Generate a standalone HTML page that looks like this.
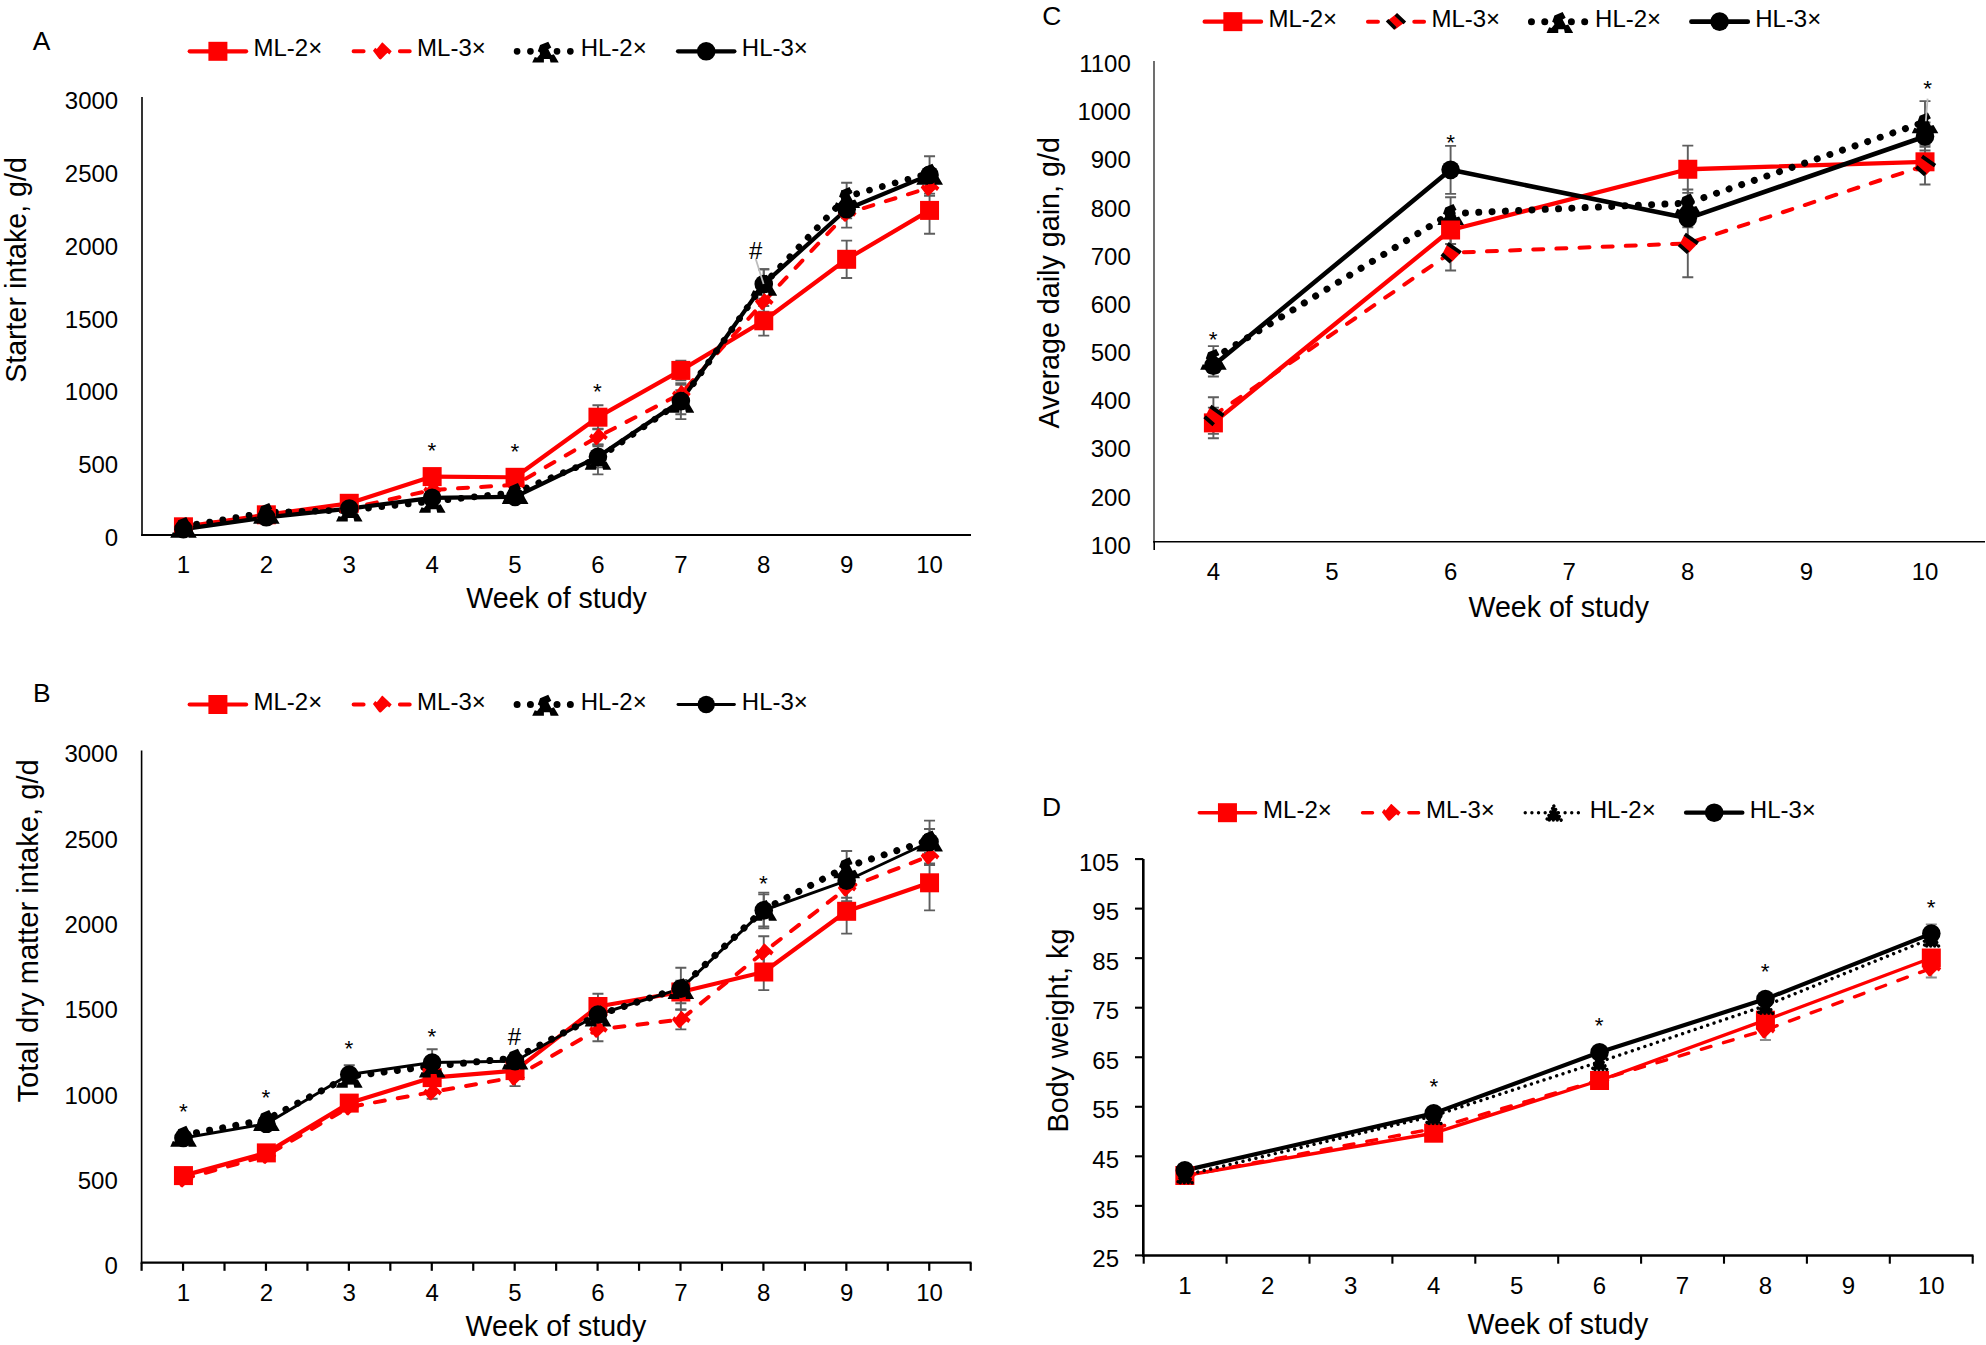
<!DOCTYPE html>
<html lang="en">
<head>
<meta charset="utf-8">
<title>Figure: intake, daily gain and body weight by week of study</title>
<style>
html,body{margin:0;padding:0;background:#fff;}
body{width:1986px;height:1345px;overflow:hidden;}
svg{display:block;}
svg text{font-family:"Liberation Sans", sans-serif;fill:#000;}
</style>
</head>
<body>
<svg width="1986" height="1345" viewBox="0 0 1986 1345">
<rect width="1986" height="1345" fill="#fff"/>
<g>
<text x="32.8" y="49.6" font-size="26.4" text-anchor="start">A</text>
<path d="M189.7 51.3 H246.1" stroke="#fe0000" stroke-width="4.2" fill="none" stroke-linecap="round" stroke-linejoin="round"/>
<rect x="208.4" y="41.8" width="19" height="19" fill="#fe0000"/>
<text x="253.5" y="56.3" font-size="24" text-anchor="start">ML-2×</text>
<path d="M353.6 51.3 H409.7" stroke="#fe0000" stroke-width="4" fill="none" stroke-linecap="round" stroke-linejoin="round" stroke-dasharray="10 13.15"/>
<polygon points="382.6,42.5 391.7,51.2 389.3,54.4 387.45,52.8 380.8,59.4 379.2,59 372.95,50.8 375.2,47.7 376.8,49 382,42.5" fill="#fe0000"/>
<text x="417.1" y="56.3" font-size="24" text-anchor="start">ML-3×</text>
<path d="M517.1 51.3 H575.3" stroke="#000" stroke-width="6.7" fill="none" stroke-linecap="round" stroke-linejoin="round" stroke-dasharray="0.01 13.3"/>
<polygon points="540.05,45.05 548.3,41.65 551.3,47.45 548.3,49.25 551.3,54.95 553.9,54.15 558.6,62.15 558.6,62.55 550.5,62.55 549.7,58.95 543.9,58.95 543.9,62.55 532.2,62.55 534.8,56.95 537.2,57.75 540.05,54.15 539.6,52.35 537.8,51.3" fill="#000"/>
<text x="580.7" y="56.3" font-size="24" text-anchor="start">HL-2×</text>
<path d="M678 51.3 H734.4" stroke="#000" stroke-width="4.2" fill="none" stroke-linecap="round" stroke-linejoin="round"/>
<circle cx="706.2" cy="51.3" r="9.3" fill="#000"/>
<text x="741.8" y="56.3" font-size="24" text-anchor="start">HL-3×</text>
<text x="118.2" y="546.05" font-size="24" text-anchor="end">0</text>
<text x="118.2" y="473.21" font-size="24" text-anchor="end">500</text>
<text x="118.2" y="400.37" font-size="24" text-anchor="end">1000</text>
<text x="118.2" y="327.53" font-size="24" text-anchor="end">1500</text>
<text x="118.2" y="254.69" font-size="24" text-anchor="end">2000</text>
<text x="118.2" y="181.85" font-size="24" text-anchor="end">2500</text>
<text x="118.2" y="109.01" font-size="24" text-anchor="end">3000</text>
<text x="183.45" y="573.1" font-size="24" text-anchor="middle">1</text>
<text x="266.35" y="573.1" font-size="24" text-anchor="middle">2</text>
<text x="349.25" y="573.1" font-size="24" text-anchor="middle">3</text>
<text x="432.15" y="573.1" font-size="24" text-anchor="middle">4</text>
<text x="515.05" y="573.1" font-size="24" text-anchor="middle">5</text>
<text x="597.95" y="573.1" font-size="24" text-anchor="middle">6</text>
<text x="680.85" y="573.1" font-size="24" text-anchor="middle">7</text>
<text x="763.75" y="573.1" font-size="24" text-anchor="middle">8</text>
<text x="846.65" y="573.1" font-size="24" text-anchor="middle">9</text>
<text x="929.55" y="573.1" font-size="24" text-anchor="middle">10</text>
<text x="556.6" y="608.1" font-size="28.6" text-anchor="middle">Week of study</text>
<text transform="translate(25.5 270) rotate(-90)" font-size="28.6" text-anchor="middle">Starter intake, g/d</text>
<path d="M183.45 526.8 L266.35 514.8 L349.25 503.3 L432.15 476.6 L515.05 477.3 L597.95 417.2 L680.85 370.4 L763.75 320.8 L846.65 259.3 L929.55 210.4" stroke="#fe0000" stroke-width="4.2" fill="none" stroke-linecap="round" stroke-linejoin="round"/>
<path d="M183.45 527 L266.35 515.2 L349.25 508.6 L432.15 489.9 L515.05 484.9 L597.95 436.7 L680.85 393.7 L763.75 301.7 L846.65 213.4 L929.55 187.6" stroke="#fe0000" stroke-width="4" fill="none" stroke-linecap="round" stroke-linejoin="round" stroke-dasharray="10 13.15"/>
<path d="M183.45 526.45 L266.35 512.45 L349.25 510.15 L432.15 501.35 L515.05 492.55 L597.95 458.45 L680.85 401.35 L763.75 284.35 L846.65 196.55 L929.55 173.25" stroke="#000" stroke-width="6.7" fill="none" stroke-linecap="round" stroke-linejoin="round" stroke-dasharray="0.01 13.3"/>
<path d="M183.45 529.2 L266.35 517.3 L349.25 508.6 L432.15 497.9 L515.05 496.9 L597.95 456.8 L680.85 401.1 L763.75 284 L846.65 209.3 L929.55 174.9" stroke="#000" stroke-width="4.2" fill="none" stroke-linecap="round" stroke-linejoin="round"/>
<path d="M597.95 405.2 V429.2 M592.45 405.2 H603.45 M592.45 429.2 H603.45" stroke="#5e5e5e" stroke-width="1.9" fill="none"/>
<path d="M680.85 360.6 V380.2 M675.35 360.6 H686.35 M675.35 380.2 H686.35" stroke="#5e5e5e" stroke-width="1.9" fill="none"/>
<path d="M763.75 306 V335.6 M758.25 306 H769.25 M758.25 335.6 H769.25" stroke="#5e5e5e" stroke-width="1.9" fill="none"/>
<path d="M846.65 240.6 V278 M841.15 240.6 H852.15 M841.15 278 H852.15" stroke="#5e5e5e" stroke-width="1.9" fill="none"/>
<path d="M929.55 187.1 V233.7 M924.05 187.1 H935.05 M924.05 233.7 H935.05" stroke="#5e5e5e" stroke-width="1.9" fill="none"/>
<path d="M597.95 428.7 V444.7 M592.45 428.7 H603.45 M592.45 444.7 H603.45" stroke="#5e5e5e" stroke-width="1.9" fill="none"/>
<path d="M680.85 384.7 V402.7 M675.35 384.7 H686.35 M675.35 402.7 H686.35" stroke="#5e5e5e" stroke-width="1.9" fill="none"/>
<path d="M763.75 291.7 V311.7 M758.25 291.7 H769.25 M758.25 311.7 H769.25" stroke="#5e5e5e" stroke-width="1.9" fill="none"/>
<path d="M846.65 208.4 V218.4 M841.15 208.4 H852.15 M841.15 218.4 H852.15" stroke="#5e5e5e" stroke-width="1.9" fill="none"/>
<path d="M929.55 179.5 V195.7 M924.05 179.5 H935.05 M924.05 195.7 H935.05" stroke="#5e5e5e" stroke-width="1.9" fill="none"/>
<path d="M597.95 444.4 V474.4 M592.45 444.4 H603.45 M592.45 474.4 H603.45" stroke="#5e5e5e" stroke-width="1.9" fill="none"/>
<path d="M680.85 390.3 V414.3 M675.35 390.3 H686.35 M675.35 414.3 H686.35" stroke="#5e5e5e" stroke-width="1.9" fill="none"/>
<path d="M763.75 269.3 V301.3 M758.25 269.3 H769.25 M758.25 301.3 H769.25" stroke="#5e5e5e" stroke-width="1.9" fill="none"/>
<path d="M846.65 182.7 V212.3 M841.15 182.7 H852.15 M841.15 212.3 H852.15" stroke="#5e5e5e" stroke-width="1.9" fill="none"/>
<path d="M929.55 169.2 V179.2 M924.05 169.2 H935.05 M924.05 179.2 H935.05" stroke="#5e5e5e" stroke-width="1.9" fill="none"/>
<path d="M597.95 446.2 V467.4 M592.45 446.2 H603.45 M592.45 467.4 H603.45" stroke="#5e5e5e" stroke-width="1.9" fill="none"/>
<path d="M680.85 383.1 V419.1 M675.35 383.1 H686.35 M675.35 419.1 H686.35" stroke="#5e5e5e" stroke-width="1.9" fill="none"/>
<path d="M763.75 269.3 V298.7 M758.25 269.3 H769.25 M758.25 298.7 H769.25" stroke="#5e5e5e" stroke-width="1.9" fill="none"/>
<path d="M846.65 191 V227.6 M841.15 191 H852.15 M841.15 227.6 H852.15" stroke="#5e5e5e" stroke-width="1.9" fill="none"/>
<path d="M929.55 156.2 V193.6 M924.05 156.2 H935.05 M924.05 193.6 H935.05" stroke="#5e5e5e" stroke-width="1.9" fill="none"/>
<rect x="173.95" y="517.3" width="19" height="19" fill="#fe0000"/>
<rect x="256.85" y="505.3" width="19" height="19" fill="#fe0000"/>
<rect x="339.75" y="493.8" width="19" height="19" fill="#fe0000"/>
<rect x="422.65" y="467.1" width="19" height="19" fill="#fe0000"/>
<rect x="505.55" y="467.8" width="19" height="19" fill="#fe0000"/>
<rect x="588.45" y="407.7" width="19" height="19" fill="#fe0000"/>
<rect x="671.35" y="360.9" width="19" height="19" fill="#fe0000"/>
<rect x="754.25" y="311.3" width="19" height="19" fill="#fe0000"/>
<rect x="837.15" y="249.8" width="19" height="19" fill="#fe0000"/>
<rect x="920.05" y="200.9" width="19" height="19" fill="#fe0000"/>
<polygon points="184.25,518.5 193.35,527.2 190.95,530.4 189.1,528.8 182.45,535.4 180.85,535 174.6,526.8 176.85,523.7 178.45,525 183.65,518.5" fill="#fe0000"/>
<polygon points="267.15,506.7 276.25,515.4 273.85,518.6 272,517 265.35,523.6 263.75,523.2 257.5,515 259.75,511.9 261.35,513.2 266.55,506.7" fill="#fe0000"/>
<polygon points="350.05,500.1 359.15,508.8 356.75,512 354.9,510.4 348.25,517 346.65,516.6 340.4,508.4 342.65,505.3 344.25,506.6 349.45,500.1" fill="#fe0000"/>
<polygon points="432.95,481.4 442.05,490.1 439.65,493.3 437.8,491.7 431.15,498.3 429.55,497.9 423.3,489.7 425.55,486.6 427.15,487.9 432.35,481.4" fill="#fe0000"/>
<polygon points="515.85,476.4 524.95,485.1 522.55,488.3 520.7,486.7 514.05,493.3 512.45,492.9 506.2,484.7 508.45,481.6 510.05,482.9 515.25,476.4" fill="#fe0000"/>
<polygon points="598.75,428.2 607.85,436.9 605.45,440.1 603.6,438.5 596.95,445.1 595.35,444.7 589.1,436.5 591.35,433.4 592.95,434.7 598.15,428.2" fill="#fe0000"/>
<polygon points="681.65,385.2 690.75,393.9 688.35,397.1 686.5,395.5 679.85,402.1 678.25,401.7 672,393.5 674.25,390.4 675.85,391.7 681.05,385.2" fill="#fe0000"/>
<polygon points="764.55,293.2 773.65,301.9 771.25,305.1 769.4,303.5 762.75,310.1 761.15,309.7 754.9,301.5 757.15,298.4 758.75,299.7 763.95,293.2" fill="#fe0000"/>
<polygon points="847.45,204.9 856.55,213.6 854.15,216.8 852.3,215.2 845.65,221.8 844.05,221.4 837.8,213.2 840.05,210.1 841.65,211.4 846.85,204.9" fill="#fe0000"/>
<polygon points="930.35,179.1 939.45,187.8 937.05,191 935.2,189.4 928.55,196 926.95,195.6 920.7,187.4 922.95,184.3 924.55,185.6 929.75,179.1" fill="#fe0000"/>
<polygon points="178.1,520.35 186.35,516.95 189.35,522.75 186.35,524.55 189.35,530.25 191.95,529.45 196.65,537.45 196.65,537.85 188.55,537.85 187.75,534.25 181.95,534.25 181.95,537.85 170.25,537.85 172.85,532.25 175.25,533.05 178.1,529.45 177.65,527.65 175.85,526.6" fill="#000"/>
<polygon points="261,506.35 269.25,502.95 272.25,508.75 269.25,510.55 272.25,516.25 274.85,515.45 279.55,523.45 279.55,523.85 271.45,523.85 270.65,520.25 264.85,520.25 264.85,523.85 253.15,523.85 255.75,518.25 258.15,519.05 261,515.45 260.55,513.65 258.75,512.6" fill="#000"/>
<polygon points="343.9,504.05 352.15,500.65 355.15,506.45 352.15,508.25 355.15,513.95 357.75,513.15 362.45,521.15 362.45,521.55 354.35,521.55 353.55,517.95 347.75,517.95 347.75,521.55 336.05,521.55 338.65,515.95 341.05,516.75 343.9,513.15 343.45,511.35 341.65,510.3" fill="#000"/>
<polygon points="426.8,495.25 435.05,491.85 438.05,497.65 435.05,499.45 438.05,505.15 440.65,504.35 445.35,512.35 445.35,512.75 437.25,512.75 436.45,509.15 430.65,509.15 430.65,512.75 418.95,512.75 421.55,507.15 423.95,507.95 426.8,504.35 426.35,502.55 424.55,501.5" fill="#000"/>
<polygon points="509.7,486.45 517.95,483.05 520.95,488.85 517.95,490.65 520.95,496.35 523.55,495.55 528.25,503.55 528.25,503.95 520.15,503.95 519.35,500.35 513.55,500.35 513.55,503.95 501.85,503.95 504.45,498.35 506.85,499.15 509.7,495.55 509.25,493.75 507.45,492.7" fill="#000"/>
<polygon points="592.6,452.35 600.85,448.95 603.85,454.75 600.85,456.55 603.85,462.25 606.45,461.45 611.15,469.45 611.15,469.85 603.05,469.85 602.25,466.25 596.45,466.25 596.45,469.85 584.75,469.85 587.35,464.25 589.75,465.05 592.6,461.45 592.15,459.65 590.35,458.6" fill="#000"/>
<polygon points="675.5,395.25 683.75,391.85 686.75,397.65 683.75,399.45 686.75,405.15 689.35,404.35 694.05,412.35 694.05,412.75 685.95,412.75 685.15,409.15 679.35,409.15 679.35,412.75 667.65,412.75 670.25,407.15 672.65,407.95 675.5,404.35 675.05,402.55 673.25,401.5" fill="#000"/>
<polygon points="758.4,278.25 766.65,274.85 769.65,280.65 766.65,282.45 769.65,288.15 772.25,287.35 776.95,295.35 776.95,295.75 768.85,295.75 768.05,292.15 762.25,292.15 762.25,295.75 750.55,295.75 753.15,290.15 755.55,290.95 758.4,287.35 757.95,285.55 756.15,284.5" fill="#000"/>
<polygon points="841.3,190.45 849.55,187.05 852.55,192.85 849.55,194.65 852.55,200.35 855.15,199.55 859.85,207.55 859.85,207.95 851.75,207.95 850.95,204.35 845.15,204.35 845.15,207.95 833.45,207.95 836.05,202.35 838.45,203.15 841.3,199.55 840.85,197.75 839.05,196.7" fill="#000"/>
<polygon points="924.2,167.15 932.45,163.75 935.45,169.55 932.45,171.35 935.45,177.05 938.05,176.25 942.75,184.25 942.75,184.65 934.65,184.65 933.85,181.05 928.05,181.05 928.05,184.65 916.35,184.65 918.95,179.05 921.35,179.85 924.2,176.25 923.75,174.45 921.95,173.4" fill="#000"/>
<circle cx="183.45" cy="529.2" r="9.3" fill="#000"/>
<circle cx="266.35" cy="517.3" r="9.3" fill="#000"/>
<circle cx="349.25" cy="508.6" r="9.3" fill="#000"/>
<circle cx="432.15" cy="497.9" r="9.3" fill="#000"/>
<circle cx="515.05" cy="496.9" r="9.3" fill="#000"/>
<circle cx="597.95" cy="456.8" r="9.3" fill="#000"/>
<circle cx="680.85" cy="401.1" r="9.3" fill="#000"/>
<circle cx="763.75" cy="284" r="9.3" fill="#000"/>
<circle cx="846.65" cy="209.3" r="9.3" fill="#000"/>
<circle cx="929.55" cy="174.9" r="9.3" fill="#000"/>
<path d="M755.6 258.5 L763.6 284" stroke="#bdbdbd" stroke-width="1.8"/>
<path d="M142 97 V536.05" stroke="#000" stroke-width="1.6"/>
<path d="M141.2 535 H971" stroke="#000" stroke-width="2.1"/>
<text x="431.9" y="457.9" font-size="22.5" text-anchor="middle">*</text>
<text x="514.9" y="458.7" font-size="22.5" text-anchor="middle">*</text>
<text x="597.5" y="398.7" font-size="22.5" text-anchor="middle">*</text>
<text x="755.6" y="258.79" font-size="24" text-anchor="middle">#</text>
</g>
<g>
<text x="33" y="701.6" font-size="26.4" text-anchor="start">B</text>
<path d="M189.7 704.5 H246.1" stroke="#fe0000" stroke-width="4.2" fill="none" stroke-linecap="round" stroke-linejoin="round"/>
<rect x="208.4" y="695" width="19" height="19" fill="#fe0000"/>
<text x="253.5" y="709.5" font-size="24" text-anchor="start">ML-2×</text>
<path d="M353.6 704.5 H409.7" stroke="#fe0000" stroke-width="4" fill="none" stroke-linecap="round" stroke-linejoin="round" stroke-dasharray="10 13.15"/>
<polygon points="382.6,695.7 391.7,704.4 389.3,707.6 387.45,706 380.8,712.6 379.2,712.2 372.95,704 375.2,700.9 376.8,702.2 382,695.7" fill="#fe0000"/>
<text x="417.1" y="709.5" font-size="24" text-anchor="start">ML-3×</text>
<path d="M517.1 704.5 H575.3" stroke="#000" stroke-width="7" fill="none" stroke-linecap="round" stroke-linejoin="round" stroke-dasharray="0.01 13.3"/>
<polygon points="540.05,698.25 548.3,694.85 551.3,700.65 548.3,702.45 551.3,708.15 553.9,707.35 558.6,715.35 558.6,715.75 550.5,715.75 549.7,712.15 543.9,712.15 543.9,715.75 532.2,715.75 534.8,710.15 537.2,710.95 540.05,707.35 539.6,705.55 537.8,704.5" fill="#000"/>
<text x="580.7" y="709.5" font-size="24" text-anchor="start">HL-2×</text>
<path d="M678 704.5 H734.4" stroke="#000" stroke-width="2.9" fill="none" stroke-linecap="round" stroke-linejoin="round"/>
<circle cx="706.2" cy="704.5" r="8.7" fill="#000"/>
<text x="741.8" y="709.5" font-size="24" text-anchor="start">HL-3×</text>
<text x="117.8" y="1274.3" font-size="24" text-anchor="end">0</text>
<text x="117.8" y="1188.96" font-size="24" text-anchor="end">500</text>
<text x="117.8" y="1103.63" font-size="24" text-anchor="end">1000</text>
<text x="117.8" y="1018.29" font-size="24" text-anchor="end">1500</text>
<text x="117.8" y="932.96" font-size="24" text-anchor="end">2000</text>
<text x="117.8" y="847.62" font-size="24" text-anchor="end">2500</text>
<text x="117.8" y="762.29" font-size="24" text-anchor="end">3000</text>
<text x="183.45" y="1300.6" font-size="24" text-anchor="middle">1</text>
<text x="266.35" y="1300.6" font-size="24" text-anchor="middle">2</text>
<text x="349.25" y="1300.6" font-size="24" text-anchor="middle">3</text>
<text x="432.15" y="1300.6" font-size="24" text-anchor="middle">4</text>
<text x="515.05" y="1300.6" font-size="24" text-anchor="middle">5</text>
<text x="597.95" y="1300.6" font-size="24" text-anchor="middle">6</text>
<text x="680.85" y="1300.6" font-size="24" text-anchor="middle">7</text>
<text x="763.75" y="1300.6" font-size="24" text-anchor="middle">8</text>
<text x="846.65" y="1300.6" font-size="24" text-anchor="middle">9</text>
<text x="929.55" y="1300.6" font-size="24" text-anchor="middle">10</text>
<text x="555.95" y="1335.7" font-size="28.6" text-anchor="middle">Week of study</text>
<text transform="translate(38.3 930.9) rotate(-90)" font-size="29.15" text-anchor="middle">Total dry matter intake, g/d</text>
<path d="M183.45 1175.6 L266.35 1152.9 L349.25 1103.1 L432.15 1077.6 L515.05 1070.6 L597.95 1006.5 L680.85 992 L763.75 972 L846.65 911.3 L929.55 882.8" stroke="#fe0000" stroke-width="4.2" fill="none" stroke-linecap="round" stroke-linejoin="round"/>
<path d="M183.45 1179 L266.35 1155.6 L349.25 1107 L432.15 1092 L515.05 1077.2 L597.95 1029.4 L680.85 1019.6 L763.75 952.1 L846.65 888.1 L929.55 856" stroke="#fe0000" stroke-width="4" fill="none" stroke-linecap="round" stroke-linejoin="round" stroke-dasharray="10 13.15"/>
<path d="M183.45 1135.25 L266.35 1119.55 L349.25 1076.35 L432.15 1066.15 L515.05 1058.15 L597.95 1015.05 L680.85 987.65 L763.75 909.45 L846.65 866.85 L929.55 840.05" stroke="#000" stroke-width="7" fill="none" stroke-linecap="round" stroke-linejoin="round" stroke-dasharray="0.01 13.3"/>
<path d="M183.45 1138 L266.35 1123.8 L349.25 1074.5 L432.15 1062.5 L515.05 1061.2 L597.95 1014.5 L680.85 988.6 L763.75 910.4 L846.65 880.7 L929.55 842" stroke="#000" stroke-width="2.9" fill="none" stroke-linecap="round" stroke-linejoin="round"/>
<path d="M597.95 993.7 V1019.3 M592.45 993.7 H603.45 M592.45 1019.3 H603.45" stroke="#5e5e5e" stroke-width="1.9" fill="none"/>
<path d="M680.85 980.7 V1003.3 M675.35 980.7 H686.35 M675.35 1003.3 H686.35" stroke="#5e5e5e" stroke-width="1.9" fill="none"/>
<path d="M763.75 953.9 V990.1 M758.25 953.9 H769.25 M758.25 990.1 H769.25" stroke="#5e5e5e" stroke-width="1.9" fill="none"/>
<path d="M846.65 889 V933.6 M841.15 889 H852.15 M841.15 933.6 H852.15" stroke="#5e5e5e" stroke-width="1.9" fill="none"/>
<path d="M929.55 855.2 V910.4 M924.05 855.2 H935.05 M924.05 910.4 H935.05" stroke="#5e5e5e" stroke-width="1.9" fill="none"/>
<path d="M432.15 1085.2 V1098.8 M426.65 1085.2 H437.65 M426.65 1098.8 H437.65" stroke="#5e5e5e" stroke-width="1.9" fill="none"/>
<path d="M515.05 1068.3 V1086.1 M509.55 1068.3 H520.55 M509.55 1086.1 H520.55" stroke="#5e5e5e" stroke-width="1.9" fill="none"/>
<path d="M597.95 1017.5 V1041.3 M592.45 1017.5 H603.45 M592.45 1041.3 H603.45" stroke="#5e5e5e" stroke-width="1.9" fill="none"/>
<path d="M680.85 1009.8 V1029.4 M675.35 1009.8 H686.35 M675.35 1029.4 H686.35" stroke="#5e5e5e" stroke-width="1.9" fill="none"/>
<path d="M763.75 936.3 V967.9 M758.25 936.3 H769.25 M758.25 967.9 H769.25" stroke="#5e5e5e" stroke-width="1.9" fill="none"/>
<path d="M846.65 875.1 V901.1 M841.15 875.1 H852.15 M841.15 901.1 H852.15" stroke="#5e5e5e" stroke-width="1.9" fill="none"/>
<path d="M929.55 847 V865 M924.05 847 H935.05 M924.05 865 H935.05" stroke="#5e5e5e" stroke-width="1.9" fill="none"/>
<path d="M680.85 983.6 V993.6 M675.35 983.6 H686.35 M675.35 993.6 H686.35" stroke="#5e5e5e" stroke-width="1.9" fill="none"/>
<path d="M763.75 894.4 V926.4 M758.25 894.4 H769.25 M758.25 926.4 H769.25" stroke="#5e5e5e" stroke-width="1.9" fill="none"/>
<path d="M846.65 851 V884.6 M841.15 851 H852.15 M841.15 884.6 H852.15" stroke="#5e5e5e" stroke-width="1.9" fill="none"/>
<path d="M929.55 829 V853 M924.05 829 H935.05 M924.05 853 H935.05" stroke="#5e5e5e" stroke-width="1.9" fill="none"/>
<path d="M349.25 1065.2 V1083.8 M343.75 1065.2 H354.75 M343.75 1083.8 H354.75" stroke="#5e5e5e" stroke-width="1.9" fill="none"/>
<path d="M432.15 1049.3 V1075.7 M426.65 1049.3 H437.65 M426.65 1075.7 H437.65" stroke="#5e5e5e" stroke-width="1.9" fill="none"/>
<path d="M597.95 1004.5 V1024.5 M592.45 1004.5 H603.45 M592.45 1024.5 H603.45" stroke="#5e5e5e" stroke-width="1.9" fill="none"/>
<path d="M680.85 967.8 V1009.4 M675.35 967.8 H686.35 M675.35 1009.4 H686.35" stroke="#5e5e5e" stroke-width="1.9" fill="none"/>
<path d="M763.75 892.6 V928.2 M758.25 892.6 H769.25 M758.25 928.2 H769.25" stroke="#5e5e5e" stroke-width="1.9" fill="none"/>
<path d="M846.65 863.7 V897.7 M841.15 863.7 H852.15 M841.15 897.7 H852.15" stroke="#5e5e5e" stroke-width="1.9" fill="none"/>
<path d="M929.55 820.6 V863.4 M924.05 820.6 H935.05 M924.05 863.4 H935.05" stroke="#5e5e5e" stroke-width="1.9" fill="none"/>
<rect x="173.95" y="1166.1" width="19" height="19" fill="#fe0000"/>
<rect x="256.85" y="1143.4" width="19" height="19" fill="#fe0000"/>
<rect x="339.75" y="1093.6" width="19" height="19" fill="#fe0000"/>
<rect x="422.65" y="1068.1" width="19" height="19" fill="#fe0000"/>
<rect x="505.55" y="1061.1" width="19" height="19" fill="#fe0000"/>
<rect x="588.45" y="997" width="19" height="19" fill="#fe0000"/>
<rect x="671.35" y="982.5" width="19" height="19" fill="#fe0000"/>
<rect x="754.25" y="962.5" width="19" height="19" fill="#fe0000"/>
<rect x="837.15" y="901.8" width="19" height="19" fill="#fe0000"/>
<rect x="920.05" y="873.3" width="19" height="19" fill="#fe0000"/>
<polygon points="184.25,1170.5 193.35,1179.2 190.95,1182.4 189.1,1180.8 182.45,1187.4 180.85,1187 174.6,1178.8 176.85,1175.7 178.45,1177 183.65,1170.5" fill="#fe0000"/>
<polygon points="267.15,1147.1 276.25,1155.8 273.85,1159 272,1157.4 265.35,1164 263.75,1163.6 257.5,1155.4 259.75,1152.3 261.35,1153.6 266.55,1147.1" fill="#fe0000"/>
<polygon points="350.05,1098.5 359.15,1107.2 356.75,1110.4 354.9,1108.8 348.25,1115.4 346.65,1115 340.4,1106.8 342.65,1103.7 344.25,1105 349.45,1098.5" fill="#fe0000"/>
<polygon points="432.95,1083.5 442.05,1092.2 439.65,1095.4 437.8,1093.8 431.15,1100.4 429.55,1100 423.3,1091.8 425.55,1088.7 427.15,1090 432.35,1083.5" fill="#fe0000"/>
<polygon points="515.85,1068.7 524.95,1077.4 522.55,1080.6 520.7,1079 514.05,1085.6 512.45,1085.2 506.2,1077 508.45,1073.9 510.05,1075.2 515.25,1068.7" fill="#fe0000"/>
<polygon points="598.75,1020.9 607.85,1029.6 605.45,1032.8 603.6,1031.2 596.95,1037.8 595.35,1037.4 589.1,1029.2 591.35,1026.1 592.95,1027.4 598.15,1020.9" fill="#fe0000"/>
<polygon points="681.65,1011.1 690.75,1019.8 688.35,1023 686.5,1021.4 679.85,1028 678.25,1027.6 672,1019.4 674.25,1016.3 675.85,1017.6 681.05,1011.1" fill="#fe0000"/>
<polygon points="764.55,943.6 773.65,952.3 771.25,955.5 769.4,953.9 762.75,960.5 761.15,960.1 754.9,951.9 757.15,948.8 758.75,950.1 763.95,943.6" fill="#fe0000"/>
<polygon points="847.45,879.6 856.55,888.3 854.15,891.5 852.3,889.9 845.65,896.5 844.05,896.1 837.8,887.9 840.05,884.8 841.65,886.1 846.85,879.6" fill="#fe0000"/>
<polygon points="930.35,847.5 939.45,856.2 937.05,859.4 935.2,857.8 928.55,864.4 926.95,864 920.7,855.8 922.95,852.7 924.55,854 929.75,847.5" fill="#fe0000"/>
<polygon points="178.1,1129.15 186.35,1125.75 189.35,1131.55 186.35,1133.35 189.35,1139.05 191.95,1138.25 196.65,1146.25 196.65,1146.65 188.55,1146.65 187.75,1143.05 181.95,1143.05 181.95,1146.65 170.25,1146.65 172.85,1141.05 175.25,1141.85 178.1,1138.25 177.65,1136.45 175.85,1135.4" fill="#000"/>
<polygon points="261,1113.45 269.25,1110.05 272.25,1115.85 269.25,1117.65 272.25,1123.35 274.85,1122.55 279.55,1130.55 279.55,1130.95 271.45,1130.95 270.65,1127.35 264.85,1127.35 264.85,1130.95 253.15,1130.95 255.75,1125.35 258.15,1126.15 261,1122.55 260.55,1120.75 258.75,1119.7" fill="#000"/>
<polygon points="343.9,1070.25 352.15,1066.85 355.15,1072.65 352.15,1074.45 355.15,1080.15 357.75,1079.35 362.45,1087.35 362.45,1087.75 354.35,1087.75 353.55,1084.15 347.75,1084.15 347.75,1087.75 336.05,1087.75 338.65,1082.15 341.05,1082.95 343.9,1079.35 343.45,1077.55 341.65,1076.5" fill="#000"/>
<polygon points="426.8,1060.05 435.05,1056.65 438.05,1062.45 435.05,1064.25 438.05,1069.95 440.65,1069.15 445.35,1077.15 445.35,1077.55 437.25,1077.55 436.45,1073.95 430.65,1073.95 430.65,1077.55 418.95,1077.55 421.55,1071.95 423.95,1072.75 426.8,1069.15 426.35,1067.35 424.55,1066.3" fill="#000"/>
<polygon points="509.7,1052.05 517.95,1048.65 520.95,1054.45 517.95,1056.25 520.95,1061.95 523.55,1061.15 528.25,1069.15 528.25,1069.55 520.15,1069.55 519.35,1065.95 513.55,1065.95 513.55,1069.55 501.85,1069.55 504.45,1063.95 506.85,1064.75 509.7,1061.15 509.25,1059.35 507.45,1058.3" fill="#000"/>
<polygon points="592.6,1008.95 600.85,1005.55 603.85,1011.35 600.85,1013.15 603.85,1018.85 606.45,1018.05 611.15,1026.05 611.15,1026.45 603.05,1026.45 602.25,1022.85 596.45,1022.85 596.45,1026.45 584.75,1026.45 587.35,1020.85 589.75,1021.65 592.6,1018.05 592.15,1016.25 590.35,1015.2" fill="#000"/>
<polygon points="675.5,981.55 683.75,978.15 686.75,983.95 683.75,985.75 686.75,991.45 689.35,990.65 694.05,998.65 694.05,999.05 685.95,999.05 685.15,995.45 679.35,995.45 679.35,999.05 667.65,999.05 670.25,993.45 672.65,994.25 675.5,990.65 675.05,988.85 673.25,987.8" fill="#000"/>
<polygon points="758.4,903.35 766.65,899.95 769.65,905.75 766.65,907.55 769.65,913.25 772.25,912.45 776.95,920.45 776.95,920.85 768.85,920.85 768.05,917.25 762.25,917.25 762.25,920.85 750.55,920.85 753.15,915.25 755.55,916.05 758.4,912.45 757.95,910.65 756.15,909.6" fill="#000"/>
<polygon points="841.3,860.75 849.55,857.35 852.55,863.15 849.55,864.95 852.55,870.65 855.15,869.85 859.85,877.85 859.85,878.25 851.75,878.25 850.95,874.65 845.15,874.65 845.15,878.25 833.45,878.25 836.05,872.65 838.45,873.45 841.3,869.85 840.85,868.05 839.05,867" fill="#000"/>
<polygon points="924.2,833.95 932.45,830.55 935.45,836.35 932.45,838.15 935.45,843.85 938.05,843.05 942.75,851.05 942.75,851.45 934.65,851.45 933.85,847.85 928.05,847.85 928.05,851.45 916.35,851.45 918.95,845.85 921.35,846.65 924.2,843.05 923.75,841.25 921.95,840.2" fill="#000"/>
<circle cx="183.45" cy="1138" r="9.3" fill="#000"/>
<circle cx="266.35" cy="1123.8" r="9.3" fill="#000"/>
<circle cx="349.25" cy="1074.5" r="9.3" fill="#000"/>
<circle cx="432.15" cy="1062.5" r="9.3" fill="#000"/>
<circle cx="515.05" cy="1061.2" r="9.3" fill="#000"/>
<circle cx="597.95" cy="1014.5" r="9.3" fill="#000"/>
<circle cx="680.85" cy="988.6" r="9.3" fill="#000"/>
<circle cx="763.75" cy="910.4" r="9.3" fill="#000"/>
<circle cx="846.65" cy="880.7" r="9.3" fill="#000"/>
<circle cx="929.55" cy="842" r="9.3" fill="#000"/>
<path d="M141.6 750.5 V1263.65" stroke="#000" stroke-width="1.6"/>
<path d="M140.8 1262.6 H971.5" stroke="#000" stroke-width="2.1"/>
<path d="M141.6 1262.6 V1270.8" stroke="#000" stroke-width="2.2"/>
<path d="M183.06 1262.6 V1270.8" stroke="#000" stroke-width="2.2"/>
<path d="M224.51 1262.6 V1270.8" stroke="#000" stroke-width="2.2"/>
<path d="M265.96 1262.6 V1270.8" stroke="#000" stroke-width="2.2"/>
<path d="M307.42 1262.6 V1270.8" stroke="#000" stroke-width="2.2"/>
<path d="M348.88 1262.6 V1270.8" stroke="#000" stroke-width="2.2"/>
<path d="M390.33 1262.6 V1270.8" stroke="#000" stroke-width="2.2"/>
<path d="M431.78 1262.6 V1270.8" stroke="#000" stroke-width="2.2"/>
<path d="M473.24 1262.6 V1270.8" stroke="#000" stroke-width="2.2"/>
<path d="M514.69 1262.6 V1270.8" stroke="#000" stroke-width="2.2"/>
<path d="M556.15 1262.6 V1270.8" stroke="#000" stroke-width="2.2"/>
<path d="M597.61 1262.6 V1270.8" stroke="#000" stroke-width="2.2"/>
<path d="M639.06 1262.6 V1270.8" stroke="#000" stroke-width="2.2"/>
<path d="M680.51 1262.6 V1270.8" stroke="#000" stroke-width="2.2"/>
<path d="M721.97 1262.6 V1270.8" stroke="#000" stroke-width="2.2"/>
<path d="M763.42 1262.6 V1270.8" stroke="#000" stroke-width="2.2"/>
<path d="M804.88 1262.6 V1270.8" stroke="#000" stroke-width="2.2"/>
<path d="M846.34 1262.6 V1270.8" stroke="#000" stroke-width="2.2"/>
<path d="M887.79 1262.6 V1270.8" stroke="#000" stroke-width="2.2"/>
<path d="M929.25 1262.6 V1270.8" stroke="#000" stroke-width="2.2"/>
<path d="M970.7 1262.6 V1270.8" stroke="#000" stroke-width="2.2"/>
<text x="183.3" y="1119.1" font-size="22.5" text-anchor="middle">*</text>
<text x="265.9" y="1105.2" font-size="22.5" text-anchor="middle">*</text>
<text x="348.8" y="1055.9" font-size="22.5" text-anchor="middle">*</text>
<text x="432" y="1043.8" font-size="22.5" text-anchor="middle">*</text>
<text x="514.5" y="1044.79" font-size="24" text-anchor="middle">#</text>
<text x="763.4" y="890.6" font-size="22.5" text-anchor="middle">*</text>
</g>
<g>
<text x="1042.2" y="25.1" font-size="26.4" text-anchor="start">C</text>
<path d="M1204.65 21.65 H1261.05" stroke="#fe0000" stroke-width="4.3" fill="none" stroke-linecap="round" stroke-linejoin="round"/>
<rect x="1223.35" y="12.15" width="19" height="19" fill="#fe0000"/>
<text x="1268.45" y="26.65" font-size="24" text-anchor="start">ML-2×</text>
<path d="M1367.95 21.65 H1424.05" stroke="#fe0000" stroke-width="4" fill="none" stroke-linecap="round" stroke-linejoin="round" stroke-dasharray="10 13.15"/>
<polygon points="1396.85,13.55 1405.55,21.65 1394.75,29.65 1386.65,21.25" fill="#fe0000"/><polygon points="1397.05,13.05 1406.1,21.5 1403.64,24.13 1394.59,15.68" fill="#000"/><polygon points="1385.8,21.5 1394.1,29.8 1396.65,27.25 1388.35,18.95" fill="#000"/>
<text x="1431.45" y="26.65" font-size="24" text-anchor="start">ML-3×</text>
<path d="M1531.45 21.65 H1589.65" stroke="#000" stroke-width="7" fill="none" stroke-linecap="round" stroke-linejoin="round" stroke-dasharray="0.01 13.3"/>
<polygon points="1554.4,15.4 1562.65,12 1565.65,17.8 1562.65,19.6 1565.65,25.3 1568.25,24.5 1572.95,32.5 1572.95,32.9 1564.85,32.9 1564.05,29.3 1558.25,29.3 1558.25,32.9 1546.55,32.9 1549.15,27.3 1551.55,28.1 1554.4,24.5 1553.95,22.7 1552.15,21.65" fill="#000"/>
<text x="1595.05" y="26.65" font-size="24" text-anchor="start">HL-2×</text>
<path d="M1691.4 21.65 H1747.8" stroke="#000" stroke-width="4.6" fill="none" stroke-linecap="round" stroke-linejoin="round"/>
<circle cx="1719.6" cy="21.65" r="9.3" fill="#000"/>
<text x="1755.2" y="26.65" font-size="24" text-anchor="start">HL-3×</text>
<text x="1130.8" y="553.7" font-size="24" text-anchor="end">100</text>
<text x="1130.8" y="505.55" font-size="24" text-anchor="end">200</text>
<text x="1130.8" y="457.39" font-size="24" text-anchor="end">300</text>
<text x="1130.8" y="409.23" font-size="24" text-anchor="end">400</text>
<text x="1130.8" y="361.08" font-size="24" text-anchor="end">500</text>
<text x="1130.8" y="312.93" font-size="24" text-anchor="end">600</text>
<text x="1130.8" y="264.77" font-size="24" text-anchor="end">700</text>
<text x="1130.8" y="216.62" font-size="24" text-anchor="end">800</text>
<text x="1130.8" y="168.46" font-size="24" text-anchor="end">900</text>
<text x="1130.8" y="120.31" font-size="24" text-anchor="end">1000</text>
<text x="1130.8" y="72.15" font-size="24" text-anchor="end">1100</text>
<text x="1213.4" y="579.5" font-size="24" text-anchor="middle">4</text>
<text x="1332" y="579.5" font-size="24" text-anchor="middle">5</text>
<text x="1450.6" y="579.5" font-size="24" text-anchor="middle">6</text>
<text x="1569.2" y="579.5" font-size="24" text-anchor="middle">7</text>
<text x="1687.8" y="579.5" font-size="24" text-anchor="middle">8</text>
<text x="1806.4" y="579.5" font-size="24" text-anchor="middle">9</text>
<text x="1925" y="579.5" font-size="24" text-anchor="middle">10</text>
<text x="1558.75" y="616.5" font-size="28.6" text-anchor="middle">Week of study</text>
<text transform="translate(1059.4 282.8) rotate(-90)" font-size="28.7" text-anchor="middle">Average daily gain, g/d</text>
<path d="M1213.4 422.9 L1450.6 230 L1687.8 169.25 L1925 161.8" stroke="#fe0000" stroke-width="4.3" fill="none" stroke-linecap="round" stroke-linejoin="round"/>
<path d="M1213.4 415.6 L1450.6 252.8 L1687.8 243.4 L1925 165.6" stroke="#fe0000" stroke-width="4" fill="none" stroke-linecap="round" stroke-linejoin="round" stroke-dasharray="10 13.15"/>
<path d="M1213.4 358.45 L1450.6 213.55 L1687.8 203.05 L1925 121.95" stroke="#000" stroke-width="7" fill="none" stroke-linecap="round" stroke-linejoin="round" stroke-dasharray="0.01 13.3"/>
<path d="M1213.4 365.6 L1450.6 169.85 L1687.8 218.3 L1925 136.5" stroke="#000" stroke-width="4.6" fill="none" stroke-linecap="round" stroke-linejoin="round"/>
<path d="M1213.4 407.6 V438.2 M1207.9 407.6 H1218.9 M1207.9 438.2 H1218.9" stroke="#5e5e5e" stroke-width="1.9" fill="none"/>
<path d="M1450.6 216 V244 M1445.1 216 H1456.1 M1445.1 244 H1456.1" stroke="#5e5e5e" stroke-width="1.9" fill="none"/>
<path d="M1687.8 145.65 V192.85 M1682.3 145.65 H1693.3 M1682.3 192.85 H1693.3" stroke="#5e5e5e" stroke-width="1.9" fill="none"/>
<path d="M1925 153.8 V169.8 M1919.5 153.8 H1930.5 M1919.5 169.8 H1930.5" stroke="#5e5e5e" stroke-width="1.9" fill="none"/>
<path d="M1213.4 397.3 V433.9 M1207.9 397.3 H1218.9 M1207.9 433.9 H1218.9" stroke="#5e5e5e" stroke-width="1.9" fill="none"/>
<path d="M1450.6 235.1 V270.5 M1445.1 235.1 H1456.1 M1445.1 270.5 H1456.1" stroke="#5e5e5e" stroke-width="1.9" fill="none"/>
<path d="M1687.8 209.5 V277.3 M1682.3 209.5 H1693.3 M1682.3 277.3 H1693.3" stroke="#5e5e5e" stroke-width="1.9" fill="none"/>
<path d="M1925 146.7 V184.5 M1919.5 146.7 H1930.5 M1919.5 184.5 H1930.5" stroke="#5e5e5e" stroke-width="1.9" fill="none"/>
<path d="M1213.4 346.1 V372.7 M1207.9 346.1 H1218.9 M1207.9 372.7 H1218.9" stroke="#5e5e5e" stroke-width="1.9" fill="none"/>
<path d="M1450.6 197.3 V231.7 M1445.1 197.3 H1456.1 M1445.1 231.7 H1456.1" stroke="#5e5e5e" stroke-width="1.9" fill="none"/>
<path d="M1687.8 189.5 V218.5 M1682.3 189.5 H1693.3 M1682.3 218.5 H1693.3" stroke="#5e5e5e" stroke-width="1.9" fill="none"/>
<path d="M1925 101.1 V144.7 M1919.5 101.1 H1930.5 M1919.5 144.7 H1930.5" stroke="#5e5e5e" stroke-width="1.9" fill="none"/>
<path d="M1213.4 354.7 V376.5 M1207.9 354.7 H1218.9 M1207.9 376.5 H1218.9" stroke="#5e5e5e" stroke-width="1.9" fill="none"/>
<path d="M1450.6 145.85 V193.85 M1445.1 145.85 H1456.1 M1445.1 193.85 H1456.1" stroke="#5e5e5e" stroke-width="1.9" fill="none"/>
<path d="M1687.8 209.3 V227.3 M1682.3 209.3 H1693.3 M1682.3 227.3 H1693.3" stroke="#5e5e5e" stroke-width="1.9" fill="none"/>
<path d="M1925 122.5 V150.5 M1919.5 122.5 H1930.5 M1919.5 150.5 H1930.5" stroke="#5e5e5e" stroke-width="1.9" fill="none"/>
<polygon points="1208.05,352.35 1216.3,348.95 1219.3,354.75 1216.3,356.55 1219.3,362.25 1221.9,361.45 1226.6,369.45 1226.6,369.85 1218.5,369.85 1217.7,366.25 1211.9,366.25 1211.9,369.85 1200.2,369.85 1202.8,364.25 1205.2,365.05 1208.05,361.45 1207.6,359.65 1205.8,358.6" fill="#000"/>
<polygon points="1445.25,207.45 1453.5,204.05 1456.5,209.85 1453.5,211.65 1456.5,217.35 1459.1,216.55 1463.8,224.55 1463.8,224.95 1455.7,224.95 1454.9,221.35 1449.1,221.35 1449.1,224.95 1437.4,224.95 1440,219.35 1442.4,220.15 1445.25,216.55 1444.8,214.75 1443,213.7" fill="#000"/>
<polygon points="1682.45,196.95 1690.7,193.55 1693.7,199.35 1690.7,201.15 1693.7,206.85 1696.3,206.05 1701,214.05 1701,214.45 1692.9,214.45 1692.1,210.85 1686.3,210.85 1686.3,214.45 1674.6,214.45 1677.2,208.85 1679.6,209.65 1682.45,206.05 1682,204.25 1680.2,203.2" fill="#000"/>
<polygon points="1919.65,115.85 1927.9,112.45 1930.9,118.25 1927.9,120.05 1930.9,125.75 1933.5,124.95 1938.2,132.95 1938.2,133.35 1930.1,133.35 1929.3,129.75 1923.5,129.75 1923.5,133.35 1911.8,133.35 1914.4,127.75 1916.8,128.55 1919.65,124.95 1919.2,123.15 1917.4,122.1" fill="#000"/>
<rect x="1203.9" y="413.4" width="19" height="19" fill="#fe0000"/>
<rect x="1441.1" y="220.5" width="19" height="19" fill="#fe0000"/>
<rect x="1678.3" y="159.75" width="19" height="19" fill="#fe0000"/>
<rect x="1915.5" y="152.3" width="19" height="19" fill="#fe0000"/>
<polygon points="1209.6,407.8 1222.7,416.5 1214.6,424.9 1205.5,416" fill="#fe0000"/><path d="M1210.4 406.4 L1223.5 415.6 M1204.6 416.8 L1213.7 424.8" stroke="#000" stroke-width="3.8" fill="none"/>
<polygon points="1446.8,245 1459.9,253.7 1451.8,262.1 1442.7,253.2" fill="#fe0000"/><path d="M1447.6 243.6 L1460.7 252.8 M1441.8 254 L1450.9 262" stroke="#000" stroke-width="3.8" fill="none"/>
<polygon points="1684,235.6 1697.1,244.3 1689,252.7 1679.9,243.8" fill="#fe0000"/><path d="M1684.8 234.2 L1697.9 243.4 M1679 244.6 L1688.1 252.6" stroke="#000" stroke-width="3.8" fill="none"/>
<polygon points="1921.2,157.8 1934.3,166.5 1926.2,174.9 1917.1,166" fill="#fe0000"/><path d="M1922 156.4 L1935.1 165.6 M1916.2 166.8 L1925.3 174.8" stroke="#000" stroke-width="3.8" fill="none"/>
<circle cx="1213.4" cy="365.6" r="9.3" fill="#000"/>
<circle cx="1450.6" cy="169.85" r="9.3" fill="#000"/>
<circle cx="1687.8" cy="218.3" r="9.3" fill="#000"/>
<circle cx="1925" cy="136.5" r="9.3" fill="#000"/>
<path d="M1927.6 98.6 L1925.8 121.3" stroke="#bdbdbd" stroke-width="1.8"/>
<path d="M1154 61.1 V542.6" stroke="#555" stroke-width="1.7"/>
<path d="M1153.15 541.8 H1985" stroke="#000" stroke-width="1.6"/>
<path d="M1154.2 541.8 V550" stroke="#000" stroke-width="1.6"/>
<text x="1213.1" y="346.6" font-size="22.5" text-anchor="middle">*</text>
<text x="1450.7" y="149.5" font-size="22.5" text-anchor="middle">*</text>
<text x="1927.6" y="96.4" font-size="22.5" text-anchor="middle">*</text>
</g>
<g>
<text x="1042.1" y="815.9" font-size="26.4" text-anchor="start">D</text>
<path d="M1199.25 812.7 H1255.65" stroke="#fe0000" stroke-width="3.4" fill="none" stroke-linecap="round" stroke-linejoin="round"/>
<rect x="1217.95" y="803.2" width="19" height="19" fill="#fe0000"/>
<text x="1263.05" y="817.7" font-size="24" text-anchor="start">ML-2×</text>
<path d="M1362.55 812.7 H1418.65" stroke="#fe0000" stroke-width="3.4" fill="none" stroke-linecap="round" stroke-linejoin="round" stroke-dasharray="10 13.15"/>
<polygon points="1391.55,803.9 1400.65,812.6 1398.25,815.8 1396.4,814.2 1389.75,820.8 1388.15,820.4 1381.9,812.2 1384.15,809.1 1385.75,810.4 1390.95,803.9" fill="#fe0000"/>
<text x="1426.05" y="817.7" font-size="24" text-anchor="start">ML-3×</text>
<path d="M1525.25 812.7 H1584.25" stroke="#000" stroke-width="3.4" fill="none" stroke-linecap="round" stroke-linejoin="round" stroke-dasharray="0.01 6.63"/>
<polygon points="1553.85,806 1561.15,820.1 1546.55,820.1" fill="#000" stroke="#000" stroke-width="3.5" stroke-linecap="round" stroke-linejoin="round" stroke-dasharray="0.01 3.95"/>
<text x="1589.65" y="817.7" font-size="24" text-anchor="start">HL-2×</text>
<path d="M1686 812.7 H1742.4" stroke="#000" stroke-width="4.2" fill="none" stroke-linecap="round" stroke-linejoin="round"/>
<circle cx="1714.2" cy="812.7" r="9.3" fill="#000"/>
<text x="1749.8" y="817.7" font-size="24" text-anchor="start">HL-3×</text>
<text x="1119" y="1267.1" font-size="24" text-anchor="end">25</text>
<path d="M1135 1255.4 H1143.3" stroke="#000" stroke-width="2.1"/>
<text x="1119" y="1217.56" font-size="24" text-anchor="end">35</text>
<path d="M1135 1205.86 H1143.3" stroke="#000" stroke-width="2.1"/>
<text x="1119" y="1168.02" font-size="24" text-anchor="end">45</text>
<path d="M1135 1156.32 H1143.3" stroke="#000" stroke-width="2.1"/>
<text x="1119" y="1118.48" font-size="24" text-anchor="end">55</text>
<path d="M1135 1106.78 H1143.3" stroke="#000" stroke-width="2.1"/>
<text x="1119" y="1068.94" font-size="24" text-anchor="end">65</text>
<path d="M1135 1057.24 H1143.3" stroke="#000" stroke-width="2.1"/>
<text x="1119" y="1019.4" font-size="24" text-anchor="end">75</text>
<path d="M1135 1007.7 H1143.3" stroke="#000" stroke-width="2.1"/>
<text x="1119" y="969.86" font-size="24" text-anchor="end">85</text>
<path d="M1135 958.16 H1143.3" stroke="#000" stroke-width="2.1"/>
<text x="1119" y="920.32" font-size="24" text-anchor="end">95</text>
<path d="M1135 908.62 H1143.3" stroke="#000" stroke-width="2.1"/>
<text x="1119" y="870.78" font-size="24" text-anchor="end">105</text>
<path d="M1135 859.08 H1143.3" stroke="#000" stroke-width="2.1"/>
<text x="1184.85" y="1293.6" font-size="24" text-anchor="middle">1</text>
<text x="1267.79" y="1293.6" font-size="24" text-anchor="middle">2</text>
<text x="1350.73" y="1293.6" font-size="24" text-anchor="middle">3</text>
<text x="1433.67" y="1293.6" font-size="24" text-anchor="middle">4</text>
<text x="1516.61" y="1293.6" font-size="24" text-anchor="middle">5</text>
<text x="1599.55" y="1293.6" font-size="24" text-anchor="middle">6</text>
<text x="1682.49" y="1293.6" font-size="24" text-anchor="middle">7</text>
<text x="1765.43" y="1293.6" font-size="24" text-anchor="middle">8</text>
<text x="1848.37" y="1293.6" font-size="24" text-anchor="middle">9</text>
<text x="1931.31" y="1293.6" font-size="24" text-anchor="middle">10</text>
<text x="1557.9" y="1333.6" font-size="28.6" text-anchor="middle">Week of study</text>
<text transform="translate(1067.5 1030.5) rotate(-90)" font-size="28.9" text-anchor="middle">Body weight, kg</text>
<path d="M1184.85 1175.5 L1433.67 1133.2 L1599.55 1080.5 L1765.43 1020.2 L1931.31 958" stroke="#fe0000" stroke-width="3.4" fill="none" stroke-linecap="round" stroke-linejoin="round"/>
<path d="M1184.85 1176 L1433.67 1128.7 L1599.55 1080 L1765.43 1030 L1931.31 968.2" stroke="#fe0000" stroke-width="3.4" fill="none" stroke-linecap="round" stroke-linejoin="round" stroke-dasharray="10 13.15"/>
<path d="M1184.85 1175.15 L1433.67 1115.9 L1599.55 1061.85 L1765.43 1005.7 L1931.31 938.4" stroke="#000" stroke-width="3.4" fill="none" stroke-linecap="round" stroke-linejoin="round" stroke-dasharray="0.01 6.63"/>
<path d="M1184.85 1170.4 L1433.67 1113.4 L1599.55 1052.3 L1765.43 999.1 L1931.31 933.6" stroke="#000" stroke-width="4.2" fill="none" stroke-linecap="round" stroke-linejoin="round"/>
<path d="M1765.43 1020 V1040 M1759.93 1020 H1770.93 M1759.93 1040 H1770.93" stroke="#8c8c8c" stroke-width="1.9" fill="none"/>
<path d="M1931.31 958.9 V977.5 M1925.81 958.9 H1936.81 M1925.81 977.5 H1936.81" stroke="#8c8c8c" stroke-width="1.9" fill="none"/>
<path d="M1931.31 924.4 V942.8 M1925.81 924.4 H1936.81 M1925.81 942.8 H1936.81" stroke="#8c8c8c" stroke-width="1.9" fill="none"/>
<rect x="1175.35" y="1166" width="19" height="19" fill="#fe0000"/>
<rect x="1424.17" y="1123.7" width="19" height="19" fill="#fe0000"/>
<rect x="1590.05" y="1071" width="19" height="19" fill="#fe0000"/>
<rect x="1755.93" y="1010.7" width="19" height="19" fill="#fe0000"/>
<rect x="1921.81" y="948.5" width="19" height="19" fill="#fe0000"/>
<polygon points="1185.65,1167.5 1194.75,1176.2 1192.35,1179.4 1190.5,1177.8 1183.85,1184.4 1182.25,1184 1176,1175.8 1178.25,1172.7 1179.85,1174 1185.05,1167.5" fill="#fe0000"/>
<polygon points="1434.47,1120.2 1443.57,1128.9 1441.17,1132.1 1439.32,1130.5 1432.67,1137.1 1431.07,1136.7 1424.82,1128.5 1427.07,1125.4 1428.67,1126.7 1433.87,1120.2" fill="#fe0000"/>
<polygon points="1600.35,1071.5 1609.45,1080.2 1607.05,1083.4 1605.2,1081.8 1598.55,1088.4 1596.95,1088 1590.7,1079.8 1592.95,1076.7 1594.55,1078 1599.75,1071.5" fill="#fe0000"/>
<polygon points="1766.23,1021.5 1775.33,1030.2 1772.93,1033.4 1771.08,1031.8 1764.43,1038.4 1762.83,1038 1756.58,1029.8 1758.83,1026.7 1760.43,1028 1765.63,1021.5" fill="#fe0000"/>
<polygon points="1932.11,959.7 1941.21,968.4 1938.81,971.6 1936.96,970 1930.31,976.6 1928.71,976.2 1922.46,968 1924.71,964.9 1926.31,966.2 1931.51,959.7" fill="#fe0000"/>
<polygon points="1184.85,1168.7 1192.15,1182.8 1177.55,1182.8" fill="#000" stroke="#000" stroke-width="3.5" stroke-linecap="round" stroke-linejoin="round" stroke-dasharray="0.01 3.95"/>
<polygon points="1433.67,1109.45 1440.97,1123.55 1426.37,1123.55" fill="#000" stroke="#000" stroke-width="3.5" stroke-linecap="round" stroke-linejoin="round" stroke-dasharray="0.01 3.95"/>
<polygon points="1599.55,1055.4 1606.85,1069.5 1592.25,1069.5" fill="#000" stroke="#000" stroke-width="3.5" stroke-linecap="round" stroke-linejoin="round" stroke-dasharray="0.01 3.95"/>
<polygon points="1765.43,999.25 1772.73,1013.35 1758.13,1013.35" fill="#000" stroke="#000" stroke-width="3.5" stroke-linecap="round" stroke-linejoin="round" stroke-dasharray="0.01 3.95"/>
<polygon points="1931.31,931.95 1938.61,946.05 1924.01,946.05" fill="#000" stroke="#000" stroke-width="3.5" stroke-linecap="round" stroke-linejoin="round" stroke-dasharray="0.01 3.95"/>
<circle cx="1184.85" cy="1170.4" r="9.3" fill="#000"/>
<circle cx="1433.67" cy="1113.4" r="9.3" fill="#000"/>
<circle cx="1599.55" cy="1052.3" r="9.3" fill="#000"/>
<circle cx="1765.43" cy="999.1" r="9.3" fill="#000"/>
<circle cx="1931.31" cy="933.6" r="9.3" fill="#000"/>
<path d="M1143.3 859.1 V1256.8" stroke="#000" stroke-width="2.6"/>
<path d="M1142 1255.5 H1973.5" stroke="#000" stroke-width="2.6"/>
<path d="M1143.7 1255.5 V1263.7" stroke="#000" stroke-width="2.1"/>
<path d="M1226.6 1255.5 V1263.7" stroke="#000" stroke-width="2.1"/>
<path d="M1309.5 1255.5 V1263.7" stroke="#000" stroke-width="2.1"/>
<path d="M1392.4 1255.5 V1263.7" stroke="#000" stroke-width="2.1"/>
<path d="M1475.3 1255.5 V1263.7" stroke="#000" stroke-width="2.1"/>
<path d="M1558.2 1255.5 V1263.7" stroke="#000" stroke-width="2.1"/>
<path d="M1641.1 1255.5 V1263.7" stroke="#000" stroke-width="2.1"/>
<path d="M1724 1255.5 V1263.7" stroke="#000" stroke-width="2.1"/>
<path d="M1806.9 1255.5 V1263.7" stroke="#000" stroke-width="2.1"/>
<path d="M1889.8 1255.5 V1263.7" stroke="#000" stroke-width="2.1"/>
<path d="M1972.7 1255.5 V1263.7" stroke="#000" stroke-width="2.1"/>
<text x="1433.8" y="1094.4" font-size="22.5" text-anchor="middle">*</text>
<text x="1599.1" y="1033.3" font-size="22.5" text-anchor="middle">*</text>
<text x="1765.2" y="979" font-size="22.5" text-anchor="middle">*</text>
<text x="1931.1" y="914.5" font-size="22.5" text-anchor="middle">*</text>
</g>
</svg>
</body>
</html>
